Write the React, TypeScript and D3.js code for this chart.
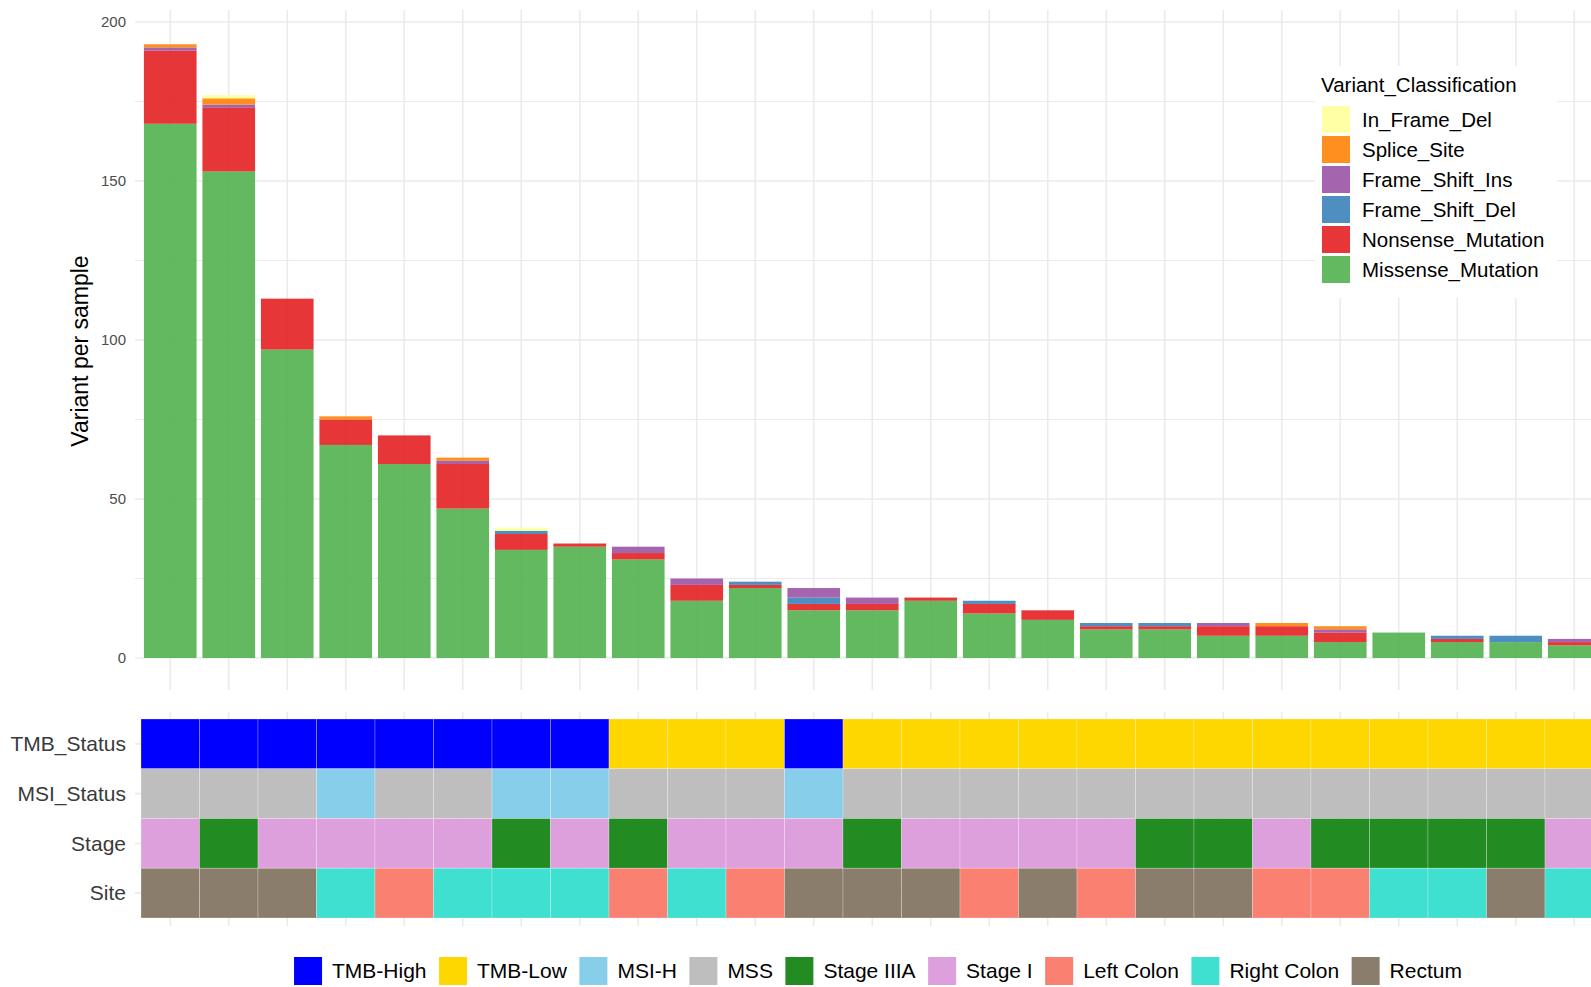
import * as d3 from "d3";

const WIDTH = 1591;
const HEIGHT = 987;

const samples = d3.range(1, 26).map((i) => `S${i}`);

// variant counts per sample (stacked bottom -> top)
const missense = [168, 153, 97, 67, 61, 47, 34, 35, 31, 18, 22, 15, 15, 18, 14, 12, 9, 9, 7, 7, 5, 8, 5, 5, 4];
const nonsense = [23, 20, 16, 8, 9, 14, 5, 1, 2, 5, 1, 2, 2, 1, 3, 3, 1, 1, 3, 3, 3, 0, 1, 0, 1];
const frameShiftDel = [0, 0, 0, 0, 0, 0, 1, 0, 0, 0, 1, 2, 0, 0, 1, 0, 1, 1, 0, 0, 0, 0, 1, 2, 0];
const frameShiftIns = [1, 1, 0, 0, 0, 1, 0, 0, 2, 2, 0, 3, 2, 0, 0, 0, 0, 0, 1, 0, 1, 0, 0, 0, 1];
const spliceSite = [1, 2, 0, 1, 0, 1, 0, 0, 0, 0, 0, 0, 0, 0, 0, 0, 0, 0, 0, 1, 1, 0, 0, 0, 0];
const inFrameDel = [0, 1, 0, 0, 0, 0, 1, 0, 0, 0, 0, 0, 0, 0, 0, 0, 0, 0, 0, 0, 0, 0, 0, 0, 0];

const variantKeys = ["Missense_Mutation", "Nonsense_Mutation", "Frame_Shift_Del", "Frame_Shift_Ins", "Splice_Site", "In_Frame_Del"];
const variantColors = ["#4DAF4A", "#E41A1C", "#377EB8", "#984EA3", "#FF7F00", "#FFFF99"];
const variantSeries = [missense, nonsense, frameShiftDel, frameShiftIns, spliceSite, inFrameDel];

const yTicks = [0, 50, 100, 150, 200];
const yMinor = [25, 75, 125, 175];

// annotation rows
const rows = ["TMB_Status", "MSI_Status", "Stage", "Site"];
const tmbStatus = [
  "TMB-High", "TMB-High", "TMB-High", "TMB-High", "TMB-High", "TMB-High", "TMB-High", "TMB-High",
  "TMB-Low", "TMB-Low", "TMB-Low", "TMB-High", "TMB-Low", "TMB-Low", "TMB-Low", "TMB-Low",
  "TMB-Low", "TMB-Low", "TMB-Low", "TMB-Low", "TMB-Low", "TMB-Low", "TMB-Low", "TMB-Low", "TMB-Low",
];
const msiStatus = [
  "MSS", "MSS", "MSS", "MSI-H", "MSS", "MSS", "MSI-H", "MSI-H", "MSS", "MSS", "MSS", "MSI-H", "MSS",
  "MSS", "MSS", "MSS", "MSS", "MSS", "MSS", "MSS", "MSS", "MSS", "MSS", "MSS", "MSS",
];
const stage = [
  "Stage I", "Stage IIIA", "Stage I", "Stage I", "Stage I", "Stage I", "Stage IIIA", "Stage I",
  "Stage IIIA", "Stage I", "Stage I", "Stage I", "Stage IIIA", "Stage I", "Stage I", "Stage I",
  "Stage I", "Stage IIIA", "Stage IIIA", "Stage I", "Stage IIIA", "Stage IIIA", "Stage IIIA", "Stage IIIA", "Stage I",
];
const site = [
  "Rectum", "Rectum", "Rectum", "Right Colon", "Left Colon", "Right Colon", "Right Colon", "Right Colon",
  "Left Colon", "Right Colon", "Left Colon", "Rectum", "Rectum", "Rectum", "Left Colon", "Rectum",
  "Left Colon", "Rectum", "Rectum", "Left Colon", "Left Colon", "Right Colon", "Right Colon", "Rectum", "Right Colon",
];
const annotation = [tmbStatus, msiStatus, stage, site];

const annoLevels = ["TMB-High", "TMB-Low", "MSI-H", "MSS", "Stage IIIA", "Stage I", "Left Colon", "Right Colon", "Rectum"];
const annoColors = ["#0000FF", "#FFD700", "#87CEEB", "#BEBEBE", "#228B22", "#DDA0DD", "#FA8072", "#40E0D0", "#8B7D6B"];

const FONT = "'Liberation Sans', Arial, sans-serif";
const GRID = "#ebebeb";

function textWidth(txt: string, size: number) {
  const ctx = document.createElement("canvas").getContext("2d");
  if (!ctx) return txt.length * size * 0.5;
  ctx.font = `${size}px 'Liberation Sans', Arial`;
  return ctx.measureText(txt).width;
}

export default function App() {
  const panelLeft = 135;
  const xScale = d3.scaleBand().domain(samples).range([141, 141 + samples.length * 58.5]).padding(0);
  const bw = xScale.bandwidth();
  const yScale = d3.scaleLinear().domain([0, 200]).range([658, 22]);

  const table = samples.map((s, i) => {
    const row: any = { sample: s };
    variantKeys.forEach((k, j) => (row[k] = variantSeries[j][i]));
    return row;
  });
  const stacked = d3.stack().keys(variantKeys)(table);
  const color = d3.scaleOrdinal<string>().domain(variantKeys).range(variantColors);

  const rowScale = d3.scaleBand().domain(rows).range([719, 918]);
  const annoColor = d3.scaleOrdinal<string>().domain(annoLevels).range(annoColors);

  // bottom legend layout
  const legSize = 21;
  const items = annoLevels.map((l) => ({ label: l, w: textWidth(l, legSize) }));
  const itemW = items.map((d) => 28 + 10 + d.w + 12.5);
  const totalW = d3.sum(itemW) - 12.5;
  let cx = 878 - totalW / 2;
  const legendPos = items.map((d, i) => {
    const x = cx;
    cx += itemW[i];
    return { ...d, x };
  });

  const legendOrder = [...variantKeys].reverse();

  return (
    <div style={{ position: "fixed", left: 0, top: 0, width: WIDTH, height: HEIGHT, background: "white" }}>
      <svg width={WIDTH} height={HEIGHT} style={{ display: "block", fontFamily: FONT }}>
        <rect width={WIDTH} height={HEIGHT} fill="white" />

        {/* main panel grid */}
        {yMinor.map((t) => (
          <line key={`m${t}`} x1={panelLeft} x2={WIDTH} y1={yScale(t)} y2={yScale(t)} stroke={GRID} strokeWidth={1} />
        ))}
        {yTicks.map((t) => (
          <line key={`M${t}`} x1={panelLeft} x2={WIDTH} y1={yScale(t)} y2={yScale(t)} stroke={GRID} strokeWidth={1.6} />
        ))}
        {samples.map((s) => (
          <line key={`v${s}`} x1={(xScale(s) ?? 0) + bw / 2} x2={(xScale(s) ?? 0) + bw / 2} y1={10} y2={690} stroke={GRID} strokeWidth={1.6} />
        ))}

        {/* stacked bars */}
        {stacked.map((layer) => (
          <g key={layer.key} fill={color(layer.key)} fillOpacity={0.88}>
            {layer.map((d, i) =>
              d[1] - d[0] > 0 ? (
                <rect
                  key={i}
                  x={(xScale(samples[i]) ?? 0) + bw * 0.05}
                  width={bw * 0.9}
                  y={yScale(d[1])}
                  height={yScale(d[0]) - yScale(d[1])}
                />
              ) : null
            )}
          </g>
        ))}

        {/* y axis */}
        {yTicks.map((t) => (
          <text key={`t${t}`} x={126} y={yScale(t)} dy="0.35em" textAnchor="end" fontSize={15} fill="#4d4d4d">
            {t}
          </text>
        ))}
        <text transform={`translate(88,351) rotate(-90)`} textAnchor="middle" fontSize={23} fill="#000">
          Variant per sample
        </text>

        {/* variant legend */}
        <rect x={1315} y={66} width={242} height={232} fill="white" />
        <text x={1321} y={92} fontSize={20.5} fill="#000">
          Variant_Classification
        </text>
        {legendOrder.map((k, i) => (
          <g key={k} transform={`translate(1322,${106 + i * 30})`}>
            <rect width={28} height={27} fill={color(k)} fillOpacity={0.88} />
            <text x={40} y={14} dy="0.35em" fontSize={20.5} fill="#000">
              {k}
            </text>
          </g>
        ))}

        {/* annotation panel grid */}
        {samples.map((s) => (
          <line key={`hv${s}`} x1={(xScale(s) ?? 0) + bw / 2} x2={(xScale(s) ?? 0) + bw / 2} y1={712} y2={926} stroke={GRID} strokeWidth={1.6} />
        ))}
        {rows.map((r) => (
          <line key={`hh${r}`} x1={panelLeft} x2={WIDTH} y1={(rowScale(r) ?? 0) + rowScale.bandwidth() / 2} y2={(rowScale(r) ?? 0) + rowScale.bandwidth() / 2} stroke={GRID} strokeWidth={1.6} />
        ))}

        {/* annotation tiles */}
        {annotation.map((vals, r) =>
          vals.map((v, i) => (
            <rect
              key={`${r}-${i}`}
              x={xScale(samples[i])}
              y={rowScale(rows[r])}
              width={bw}
              height={rowScale.bandwidth()}
              fill={annoColor(v)}
              stroke="#ffffff"
              strokeOpacity={0.3}
              strokeWidth={0.8}
            />
          ))
        )}
        {rows.map((r) => (
          <text key={`rl${r}`} x={126} y={(rowScale(r) ?? 0) + rowScale.bandwidth() / 2} dy="0.35em" textAnchor="end" fontSize={21} fill="#3a3a3a">
            {r}
          </text>
        ))}

        {/* annotation legend */}
        {legendPos.map((d) => (
          <g key={d.label} transform={`translate(${d.x},957)`}>
            <rect width={28} height={28} fill={annoColor(d.label)} />
            <text x={38} y={14} dy="0.35em" fontSize={legSize} fill="#000">
              {d.label}
            </text>
          </g>
        ))}
      </svg>
    </div>
  );
}
